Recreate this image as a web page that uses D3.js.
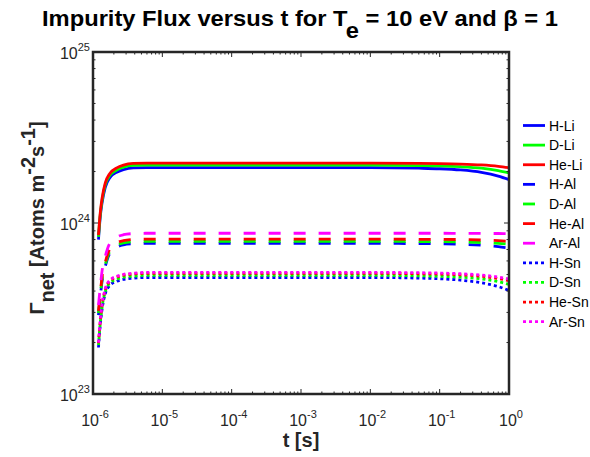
<!DOCTYPE html>
<html>
<head>
<meta charset="utf-8">
<script src="https://cdn.jsdelivr.net/npm/d3@7"></script>
<style>
  html, body { margin: 0; padding: 0; background: #fff; }
  svg { display: block; font-family: "Liberation Sans", Arial, Helvetica, sans-serif; }
</style>
</head>
<body>
<svg id="chart" width="590" height="457"></svg>
<script>
// Sample times [s]
const times = [1.2e-6, 1.27e-6, 1.35e-6, 1.5e-6, 1.75e-6, 2.2e-6, 2.75e-6, 3.8e-6, 6e-6, 1e-5,
               1e-4, 1e-3, 1e-2, 0.05, 0.1, 0.2, 0.4, 0.7, 1];

// Net impurity flux [atoms m^-2 s^-1]
const hLi  = [8.0e23, 1.08e24, 1.31e24, 1.61e24, 1.84e24, 1.98e24, 2.05e24, 2.10e24, 2.11e24, 2.11e24,
              2.11e24, 2.11e24, 2.11e24, 2.093e24, 2.076e24, 2.042e24, 1.977e24, 1.882e24, 1.794e24];
const dLi  = [8.3e23, 1.11e24, 1.35e24, 1.67e24, 1.90e24, 2.04e24, 2.12e24, 2.17e24, 2.18e24, 2.18e24,
              2.18e24, 2.18e24, 2.18e24, 2.168e24, 2.157e24, 2.134e24, 2.091e24, 2.025e24, 1.962e24];
const heLi = [8.5e23, 1.14e24, 1.39e24, 1.71e24, 1.95e24, 2.10e24, 2.18e24, 2.23e24, 2.24e24, 2.24e24,
              2.24e24, 2.24e24, 2.24e24, 2.233e24, 2.226e24, 2.212e24, 2.185e24, 2.145e24, 2.106e24];

const hAl  = [2.89e23, 3.65e23, 4.56e23, 5.55e23, 6.65e23, 7.22e23, 7.45e23, 7.56e23, 7.60e23, 7.60e23,
              7.60e23, 7.60e23, 7.60e23, 7.58e23, 7.55e23, 7.51e23, 7.41e23, 7.28e23, 7.14e23];
const dAl  = [2.97e23, 3.75e23, 4.69e23, 5.70e23, 6.83e23, 7.42e23, 7.65e23, 7.77e23, 7.81e23, 7.81e23,
              7.81e23, 7.81e23, 7.81e23, 7.79e23, 7.78e23, 7.75e23, 7.69e23, 7.60e23, 7.51e23];
const heAl = [3.06e23, 3.86e23, 4.82e23, 5.87e23, 7.04e23, 7.64e23, 7.88e23, 8.00e23, 8.04e23, 8.04e23,
              8.04e23, 8.04e23, 8.04e23, 8.03e23, 8.02e23, 8.00e23, 7.95e23, 7.89e23, 7.82e23];
const arAl = [3.31e23, 4.18e23, 5.23e23, 6.36e23, 7.62e23, 8.27e23, 8.54e23, 8.67e23, 8.71e23, 8.71e23,
              8.71e23, 8.71e23, 8.71e23, 8.71e23, 8.71e23, 8.70e23, 8.69e23, 8.68e23, 8.67e23];

const hSn  = [1.87e23, 2.50e23, 3.12e23, 3.84e23, 4.32e23, 4.56e23, 4.68e23, 4.75e23, 4.80e23, 4.80e23,
              4.80e23, 4.80e23, 4.80e23, 4.76e23, 4.72e23, 4.63e23, 4.47e23, 4.25e23, 4.03e23];
const dSn  = [1.93e23, 2.57e23, 3.21e23, 3.95e23, 4.45e23, 4.69e23, 4.82e23, 4.89e23, 4.94e23, 4.94e23,
              4.94e23, 4.94e23, 4.94e23, 4.91e23, 4.88e23, 4.82e23, 4.71e23, 4.54e23, 4.38e23];
const heSn = [1.98e23, 2.64e23, 3.30e23, 4.06e23, 4.57e23, 4.83e23, 4.95e23, 5.03e23, 5.08e23, 5.08e23,
              5.08e23, 5.08e23, 5.08e23, 5.05e23, 5.03e23, 4.98e23, 4.88e23, 4.73e23, 4.60e23];
const arSn = [2.00e23, 2.67e23, 3.34e23, 4.11e23, 4.63e23, 4.88e23, 5.01e23, 5.09e23, 5.14e23, 5.14e23,
              5.14e23, 5.14e23, 5.14e23, 5.12e23, 5.10e23, 5.05e23, 4.96e23, 4.83e23, 4.71e23];

const seriesNames = ["H-Li", "D-Li", "He-Li", "H-Al", "D-Al", "He-Al", "Ar-Al", "H-Sn", "D-Sn", "He-Sn", "Ar-Sn"];
const seriesValues = [hLi, dLi, heLi, hAl, dAl, heAl, arAl, hSn, dSn, heSn, arSn];

const xTickExps = [-6, -5, -4, -3, -2, -1, 0];
const yTickExps = [23, 24, 25];

// Styling
const colorOf = {H: "#0000ff", D: "#00ff00", He: "#ff0000", Ar: "#ff00ff"};
const dashOf = {Li: null, Al: "12,13", Sn: "3,3"};
const axisColor = "#262626";

const svg = d3.select("#chart");
const W = 590, H = 457;
const plot = {left: 93, right: 509, top: 52, bottom: 394};

const x = d3.scaleLog().domain([1e-6, 1]).range([plot.left, plot.right]);
const y = d3.scaleLog().domain([1e23, 1e25]).range([plot.bottom, plot.top]);

svg.append("rect").attr("width", W).attr("height", H).attr("fill", "#fff");

svg.append("defs").append("clipPath").attr("id", "plotClip")
  .append("rect")
  .attr("x", plot.left).attr("y", plot.top)
  .attr("width", plot.right - plot.left).attr("height", plot.bottom - plot.top);

// Series lines
const line = d3.line()
  .x(d => x(d[0]))
  .y(d => y(d[1]))
  .curve(d3.curveMonotoneX);

const lineG = svg.append("g").attr("clip-path", "url(#plotClip)");
seriesNames.forEach((name, i) => {
  const [gas, wall] = name.split("-");
  const pts = times.map((t, j) => [t, seriesValues[i][j]]);
  lineG.append("path")
    .datum(pts)
    .attr("d", line)
    .attr("fill", "none")
    .attr("stroke", colorOf[gas])
    .attr("stroke-width", 2.8)
    .attr("stroke-dasharray", dashOf[wall])
    .attr("stroke-linejoin", "round");
});

// Axes with inward ticks on all four sides
const axG = svg.append("g");
const minorY = [];
for (let e = 23; e < 25; e++) for (let m = 2; m <= 9; m++) minorY.push(m * Math.pow(10, e));
const minorX = [];
for (let e = -6; e < 0; e++) for (let m = 2; m <= 9; m++) minorX.push(m * Math.pow(10, e));

function tickLines(vals, horizontal, len) {
  vals.forEach(v => {
    if (horizontal) {
      const px = x(v);
      axG.append("line").attr("x1", px).attr("x2", px).attr("y1", plot.bottom).attr("y2", plot.bottom - len)
        .attr("stroke", axisColor).attr("stroke-width", 1);
      axG.append("line").attr("x1", px).attr("x2", px).attr("y1", plot.top).attr("y2", plot.top + len)
        .attr("stroke", axisColor).attr("stroke-width", 1);
    } else {
      const py = y(v);
      axG.append("line").attr("x1", plot.left).attr("x2", plot.left + len).attr("y1", py).attr("y2", py)
        .attr("stroke", axisColor).attr("stroke-width", 1);
      axG.append("line").attr("x1", plot.right).attr("x2", plot.right - len).attr("y1", py).attr("y2", py)
        .attr("stroke", axisColor).attr("stroke-width", 1);
    }
  });
}
tickLines(xTickExps.map(e => Math.pow(10, e)), true, 5);
tickLines(minorX, true, 2.5);
tickLines(yTickExps.map(e => Math.pow(10, e)), false, 5);
tickLines(minorY, false, 2.5);

axG.append("rect")
  .attr("x", plot.left).attr("y", plot.top)
  .attr("width", plot.right - plot.left).attr("height", plot.bottom - plot.top)
  .attr("fill", "none").attr("stroke", axisColor).attr("stroke-width", 2.5);

// Tick labels
const tickFont = 16, supFont = 11;
xTickExps.forEach(e => {
  const t = svg.append("text")
    .attr("x", x(Math.pow(10, e)) + 2)
    .attr("y", 426)
    .attr("text-anchor", "middle")
    .attr("font-size", tickFont)
    .attr("fill", axisColor);
  t.append("tspan").text("10");
  t.append("tspan").attr("dy", -8).attr("font-size", supFont).text(String(e));
});
yTickExps.forEach(e => {
  const t = svg.append("text")
    .attr("x", 90)
    .attr("y", y(Math.pow(10, e)) + 7)
    .attr("text-anchor", "end")
    .attr("font-size", tickFont)
    .attr("fill", axisColor);
  t.append("tspan").text("10");
  t.append("tspan").attr("dy", -8).attr("font-size", supFont).text(String(e));
});

// Title
const title = svg.append("text")
  .attr("x", 300).attr("y", 26)
  .attr("text-anchor", "middle")
  .attr("font-size", 22.5).attr("font-weight", "bold")
  .attr("fill", "#000")
  .attr("textLength", 516)
  .attr("lengthAdjust", "spacingAndGlyphs");
title.append("tspan").text("Impurity Flux versus t for T");
title.append("tspan").attr("dy", 12).text("e");
title.append("tspan").attr("dy", -12).text(" = 10 eV and \u03B2 = 1");

// X axis label
svg.append("text")
  .attr("x", 301).attr("y", 447)
  .attr("text-anchor", "middle")
  .attr("font-size", 20).attr("font-weight", "bold")
  .attr("fill", axisColor)
  .text("t [s]");

// Y axis label
const yl = svg.append("text")
  .attr("transform", "translate(44," + 218 + ") rotate(-90)")
  .attr("text-anchor", "middle")
  .attr("font-size", 20).attr("font-weight", "bold")
  .attr("fill", axisColor);
yl.append("tspan").text("\u0393");
yl.append("tspan").attr("dy", 10).text("net");
yl.append("tspan").attr("dy", -10).text(" [Atoms m");
yl.append("tspan").attr("dy", -9).text("-2");
yl.append("tspan").attr("dy", 9).text("s");
yl.append("tspan").attr("dy", -9).text("-1");
yl.append("tspan").attr("dy", 9).text("]");

// Legend
const legG = svg.append("g");
seriesNames.forEach((name, i) => {
  const [gas, wall] = name.split("-");
  const ly = 125.5 + i * 19.62;
  legG.append("line")
    .attr("x1", 523).attr("x2", 545)
    .attr("y1", ly).attr("y2", ly)
    .attr("stroke", colorOf[gas])
    .attr("stroke-width", 2.8)
    .attr("stroke-dasharray", dashOf[wall]);
  legG.append("text")
    .attr("x", 549).attr("y", ly + 5)
    .attr("font-size", 14)
    .attr("fill", "#000")
    .text(name);
});
</script>
</body>
</html>
